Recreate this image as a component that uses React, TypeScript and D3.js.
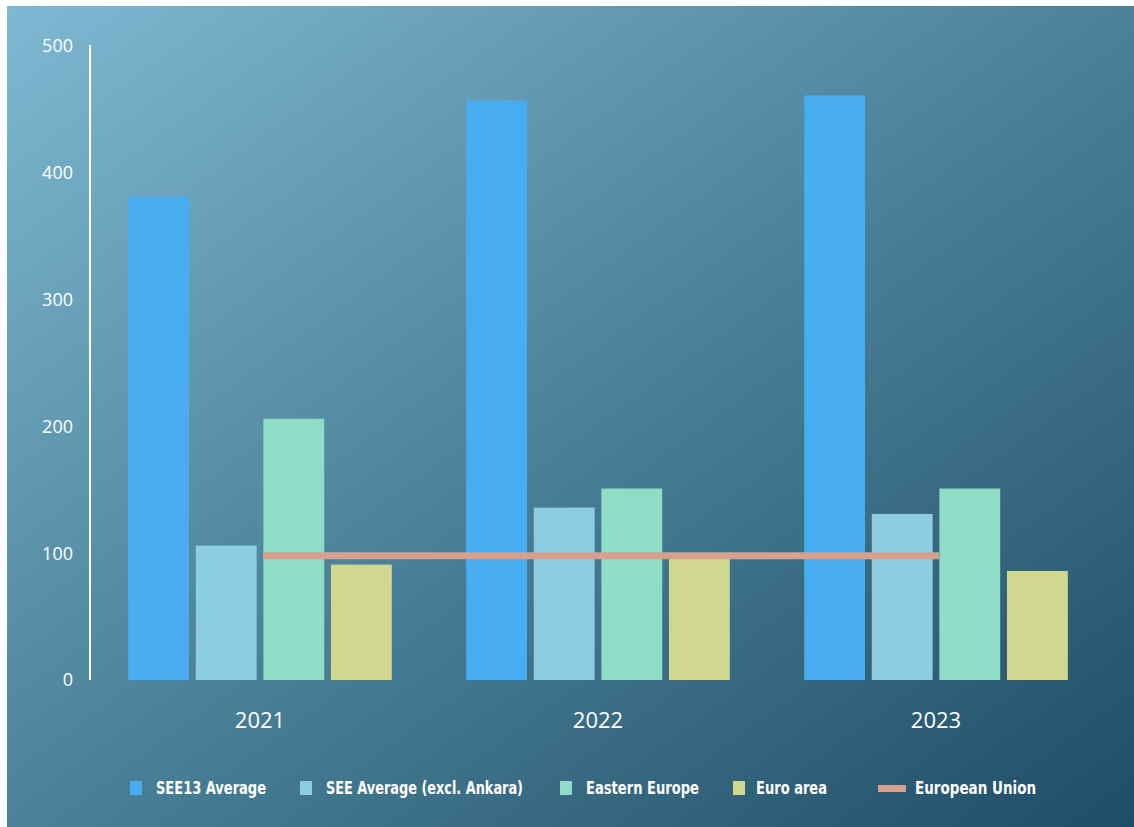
import React from "react";
import * as d3 from "d3";

const years = ["2021", "2022", "2023"];
const seriesNames = ["SEE13 Average", "SEE Average (excl. Ankara)", "Eastern Europe", "Euro area"];
const see13 = [381, 457, 461];
const seeExcl = [106, 136, 131];
const easternEurope = [206, 151, 151];
const euroArea = [91, 98, 86];
const europeanUnion = [98, 98, 98];
const yTicks = [0, 100, 200, 300, 400, 500];
const colors = ["#48adf0", "#8dcde0", "#8fdcc7", "#d0d890"];
const lineColor = "#d5a08d";
const lineName = "European Union";

const W = 1134;
const H = 827;

export default function App() {
  const series = [see13, seeExcl, easternEurope, euroArea];
  const x0 = d3.scaleBand<string>().domain(years).range([91, 1105]).paddingInner(0.22).paddingOuter(0.11);
  const x1 = d3.scaleBand<number>().domain([0, 1, 2, 3]).range([0, x0.bandwidth()]).paddingInner(0.1).paddingOuter(0);
  const y = d3.scaleLinear().domain([0, 500]).range([680, 46]);
  const line = d3
    .line<number>()
    .x((_, i) => (x0(years[i]) as number) + x0.bandwidth() / 2)
    .y((d) => y(d));

  const legendItems = [
    { name: seriesNames[0], color: colors[0], sx: 130, tx: 156, w: 110 },
    { name: seriesNames[1], color: colors[1], sx: 300, tx: 326, w: 197 },
    { name: seriesNames[2], color: colors[2], sx: 560, tx: 586, w: 113 },
    { name: seriesNames[3], color: colors[3], sx: 733, tx: 756, w: 71 },
  ];
  const legendFont = "'DejaVu Sans Condensed', 'Liberation Sans', 'Open Sans', sans-serif";
  const axisFont = "'Open Sans', 'Noto Sans', sans-serif";

  return (
    <svg
      width={W}
      height={H}
      style={{ position: "absolute", left: 0, top: 0, background: "#ffffff" }}
    >
      <defs>
        <linearGradient id="bg" x1="0" y1="0" x2="1" y2="1">
          <stop offset="0" stopColor="#7fb8d2" />
          <stop offset="0.5" stopColor="#4b8299" />
          <stop offset="1" stopColor="#1f4d65" />
        </linearGradient>
      </defs>
      <rect x={7} y={6} width={W - 7} height={H - 6} fill="url(#bg)" />

      {/* y axis */}
      <line x1={90} x2={90} y1={y(500) - 1} y2={y(0)} stroke="#ffffff" strokeWidth={2} />
      {yTicks.map((t) => (
        <text
          key={t}
          x={73}
          y={y(t)}
          dy="0.35em"
          textAnchor="end"
          fill="#ffffff"
          fontFamily={axisFont}
          fontSize={18}
        >
          {t}
        </text>
      ))}

      {/* bars */}
      {years.map((yr, i) => (
        <g key={yr} transform={`translate(${x0(yr)},0)`}>
          {series.map((s, k) => (
            <rect
              key={k}
              x={x1(k)}
              y={y(s[i])}
              width={x1.bandwidth()}
              height={y(0) - y(s[i])}
              fill={colors[k]}
            />
          ))}
        </g>
      ))}

      {/* line */}
      <path
        d={line(europeanUnion) || ""}
        transform="translate(3,0)"
        fill="none"
        stroke={lineColor}
        strokeWidth={7}
      />

      {/* x labels */}
      {years.map((yr) => (
        <text
          key={yr}
          x={(x0(yr) as number) + x0.bandwidth() / 2}
          y={728}
          textAnchor="middle"
          fill="#ffffff"
          fontFamily={axisFont}
          fontSize={22}
        >
          {yr}
        </text>
      ))}

      {/* legend */}
      {legendItems.map((it) => (
        <g key={it.name}>
          <rect x={it.sx} y={781} width={12} height={14} fill={it.color} />
          <text
            x={it.tx}
            y={788}
            dy="0.35em"
            fill="#ffffff"
            fontFamily={legendFont}
            fontWeight="bold"
            fontSize={18}
            textLength={it.w}
            lengthAdjust="spacingAndGlyphs"
          >
            {it.name}
          </text>
        </g>
      ))}
      <rect x={878} y={785} width={28} height={7} fill={lineColor} />
      <text
        x={915}
        y={788}
        dy="0.35em"
        fill="#ffffff"
        fontFamily={legendFont}
        fontWeight="bold"
        fontSize={18}
        textLength={121}
        lengthAdjust="spacingAndGlyphs"
      >
        {lineName}
      </text>
    </svg>
  );
}
